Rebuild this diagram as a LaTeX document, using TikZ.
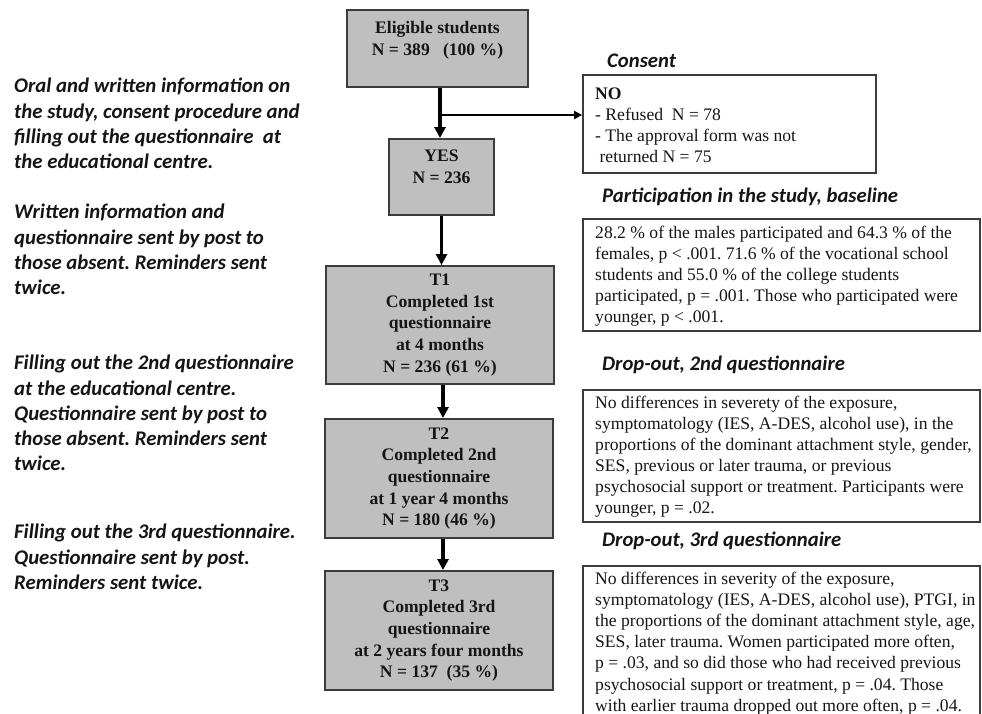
\documentclass[tikz,border=0pt]{standalone}
\usepackage{fontspec}
\setmainfont{Liberation Serif}
\newfontfamily\calfont{Carlito}
\usetikzlibrary{arrows.meta}
\definecolor{boxfill}{HTML}{BFBFBF}
\definecolor{boxline}{HTML}{3C3C3C}
\definecolor{ink}{HTML}{151515}
\frenchspacing
\begin{document}
\begin{tikzpicture}[x=1pt,y=-1pt,
 cbox/.style={draw=boxline, line width=2pt, fill=boxfill, inner sep=0pt, align=center,
   font=\fontsize{17.6}{21.7}\selectfont\bfseries, text=ink},
 ctext/.style={align=center, font=\fontsize{17.6}{21.7}\selectfont\bfseries, text=ink, inner sep=0pt},
 rbox/.style={draw=boxline, line width=1.8pt, fill=white, inner sep=0pt},
 rtext/.style={anchor=west, inner sep=0pt, align=left, font=\fontsize{17.6}{21.1}\selectfont, text=ink},
 ttl/.style={anchor=west, inner sep=0pt, font=\calfont\bfseries\itshape\fontsize{20.7}{25}\selectfont, text=ink},
 side/.style={anchor=north west, inner sep=0pt, align=left,
   font=\calfont\bfseries\itshape\fontsize{20.8}{25.2}\selectfont, text=ink},
 varr/.style={draw=black, line width=3.2pt, -{Triangle[length=11pt,width=11pt]}},
 harr/.style={draw=black, line width=2.2pt, -{Triangle[length=8pt,width=8pt]}},
]
\useasboundingbox (0,0) rectangle (982,713);
\fill[white] (0,0) rectangle (982,713);

% left column texts
\node[side] (p1) at (14,78) {Oral and written information on\\the study, consent procedure and\\filling out the questionnaire\ \ at\\the educational centre.};
\node[side] (p2) at (14,204) {Written information and\\questionnaire sent by post to\\those absent. Reminders sent\\twice.};
\node[side] (p3) at (14,355) {Filling out the 2nd questionnaire\\at the educational centre.\\Questionnaire sent by post to\\those absent. Reminders sent\\twice.};
\node[side] (p4) at (14,524) {Filling out the 3rd questionnaire.\\Questionnaire sent by post.\\Reminders sent twice.};

% centre column
\node[cbox, minimum width=181pt, minimum height=77pt] (elig) at (437.5,48.5) {};
\node[ctext] (eligt) at (437.5,40) {Eligible students\\N = 389\ \ \ (100 \%)};
\node[cbox, minimum width=105pt, minimum height=76pt] (yes) at (441.5,177) {};
\node[ctext] (yest) at (441.5,166.5) {YES\\N = 236};
\node[cbox, minimum width=228pt, minimum height=118pt] (t1) at (440,325) {T1\\Completed 1st\\questionnaire\\at 4 months\\N = 236 (61 \%)};
\node[cbox, minimum width=228pt, minimum height=119pt] (t2) at (439,478.5) {T2\\Completed 2nd\\questionnaire\\at 1 year 4 months\\N = 180 (46 \%)};
\node[cbox, minimum width=228pt, minimum height=119pt] (t3) at (439,630.5) {T3\\Completed 3rd\\questionnaire\\at 2 years four months\\N = 137\ \ (35 \%)};

% right column titles
\node[ttl] (tcons) at (607,61) {Consent};
\node[ttl] (tpart) at (602,197) {Participation in the study, baseline};
\node[ttl] (tdo2) at (602,365) {Drop-out, 2nd questionnaire};
\node[ttl] (tdo3) at (602,541) {Drop-out, 3rd questionnaire};

% right column boxes
\node[rbox, minimum width=293pt, minimum height=98pt] (no) at (729.5,124) {};
\node[rtext] (not) at (595,125.5)
 {\textbf{NO}\\- Refused\ \ N = 78\\- The approval form was not\\\ returned N = 75};
\node[rbox, minimum width=397pt, minimum height=112pt] (part) at (781.5,275) {};
\node[rtext] (partt) at (595,276)
 {28.2 \% of the males participated and 64.3 \% of the\\females, p < .001. 71.6 \% of the vocational school\\students and 55.0 \% of the college students\\participated, p = .001. Those who participated were\\younger, p < .001.};
\node[rbox, minimum width=397pt, minimum height=132pt] (do2) at (781.5,456) {};
\node[rtext] (do2t) at (595,456.5)
 {No differences in severety of the exposure,\\symptomatology (IES, A-DES, alcohol use), in the\\proportions of the dominant attachment style, gender,\\SES, previous or later trauma, or previous\\psychosocial support or treatment. Participants were\\younger, p = .02.};
\node[rbox, minimum width=397pt, minimum height=154pt] (do3) at (781.5,643) {};
\node[rtext] (do3t) at (595,643.5)
 {No differences in severity of the exposure,\\symptomatology (IES, A-DES, alcohol use), PTGI, in\\the proportions of the dominant attachment style, age,\\SES, later trauma. Women participated more often,\\p = .03, and so did those who had received previous\\psychosocial support or treatment, p = .04. Those\\with earlier trauma dropped out more often, p = .04.};

% connectors
\draw[varr] ([xshift=2.5pt]elig.south) -- ([xshift=-1.5pt]yes.north);
\coordinate (br) at ([shift={(2.5,27)}]elig.south);
\draw[harr] (br) -- (br -| no.west);
\draw[varr] (yes.south) -- (yes.south |- t1.north);
\draw[varr] ([xshift=3pt]t1.south) -- ([xshift=4pt]t2.north);
\draw[varr] ([xshift=4pt]t2.south) -- ([xshift=4pt]t3.north);
\end{tikzpicture}
\end{document}
